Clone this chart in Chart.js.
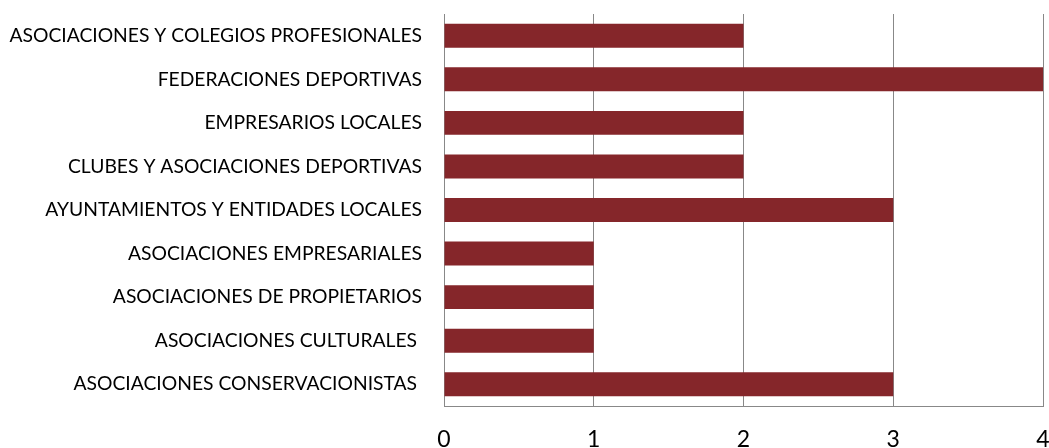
<!DOCTYPE html>
<html>
<head>
<meta charset="utf-8">
<script src="https://cdn.jsdelivr.net/npm/chart.js@4.4.0/dist/chart.umd.min.js"></script>
<style>
    html, body { margin: 0; padding: 0; background: #ffffff; }
    #chart { display: block; }
</style>
</head>
<body>
<canvas id="chart" width="1049" height="448"></canvas>
<script>
var categories = [
    "ASOCIACIONES Y COLEGIOS PROFESIONALES",
    "FEDERACIONES DEPORTIVAS",
    "EMPRESARIOS LOCALES",
    "CLUBES Y ASOCIACIONES DEPORTIVAS",
    "AYUNTAMIENTOS Y ENTIDADES LOCALES",
    "ASOCIACIONES EMPRESARIALES",
    "ASOCIACIONES DE PROPIETARIOS",
    "ASOCIACIONES CULTURALES ",
    "ASOCIACIONES CONSERVACIONISTAS "
];
var values = [2, 4, 2, 2, 3, 1, 1, 1, 3];
var xTicks = [0, 1, 2, 3, 4];

// stop chart.js from reserving room for overhanging tick labels
function noPad(scale) {
    scale.paddingLeft = 0;
    scale.paddingRight = 0;
    scale.paddingTop = 0;
    scale.paddingBottom = 0;
}

var ctx = document.getElementById("chart").getContext("2d");
var myChart = new Chart(ctx, {
    type: "bar",
    data: {
        labels: categories,
        datasets: [
            {
                data: values,
                backgroundColor: "#85262a",
                borderWidth: 0,
                barPercentage: 0.55,
                categoryPercentage: 1
            }
        ]
    },
    options: {
        indexAxis: "y",
        responsive: false,
        animation: false,
        layout: { padding: { top: 14, right: 6, left: 0, bottom: 0 } },
        plugins: {
            legend: { display: false },
            tooltip: { enabled: false }
        },
        scales: {
            x: {
                min: 0,
                max: 4,
                afterBuildTicks: function (scale) {
                    scale.ticks = xTicks.map(function (v) { return { value: v }; });
                },
                afterFit: function (scale) {
                    scale.height = 42;
                    noPad(scale);
                },
                grid: {
                    color: "#888888",
                    lineWidth: 1,
                    drawTicks: false
                },
                border: { color: "#888888" },
                ticks: {
                    color: "#000000",
                    padding: 20,
                    maxRotation: 0,
                    font: { family: "Lato", size: 23 }
                }
            },
            y: {
                afterFit: function (scale) {
                    scale.width = 444;
                    noPad(scale);
                },
                grid: { display: false, drawTicks: false },
                border: { color: "#888888" },
                ticks: {
                    color: "#000000",
                    padding: 22,
                    autoSkip: false,
                    font: { family: "Lato", size: 19.3 }
                }
            }
        }
    }
});
</script>
</body>
</html>
